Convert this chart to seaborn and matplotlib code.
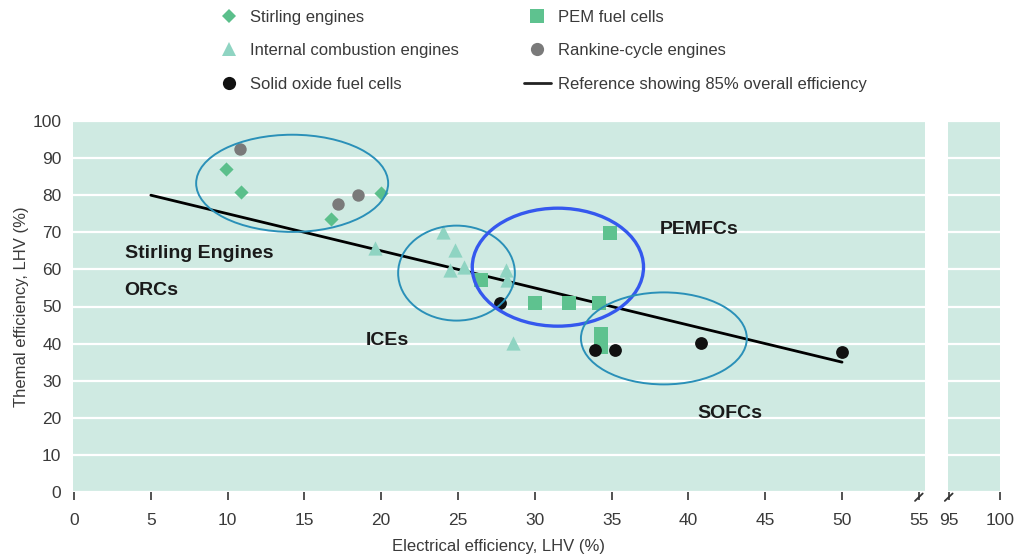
import matplotlib
matplotlib.use('Agg')
import matplotlib.pyplot as plt
import matplotlib.transforms as mtrans
import seaborn as sns
import pandas as pd
from matplotlib.patches import Ellipse
from matplotlib.lines import Line2D

# ---------------- data ----------------
stirling_x = [9.9, 10.9, 16.7, 20.0]
stirling_y = [87.0, 80.8, 73.5, 80.6]

rankine_x = [10.8, 17.2, 18.5]
rankine_y = [92.4, 77.5, 80.0]

ice_x = [19.6, 24.0, 24.8, 24.5, 25.4, 28.1, 28.2, 28.6]
ice_y = [65.7, 70.0, 65.2, 59.8, 60.6, 59.8, 57.2, 40.2]

pem_x = [34.9, 26.5, 30.0, 32.2, 34.2, 34.3, 34.3]
pem_y = [69.7, 57.1, 50.9, 50.9, 50.9, 42.6, 39.1]

sofc_x = [27.7, 33.9, 35.2, 40.8, 50.0]
sofc_y = [50.9, 38.3, 38.3, 40.2, 37.8]

ref_x = [5, 50]
ref_y = [80, 35]   # 85% overall efficiency

series_names = ["Stirling engines", "Internal combustion engines", "Solid oxide fuel cells",
                "PEM fuel cells", "Rankine-cycle engines"]
ref_name = "Reference showing 85% overall efficiency"

# cluster annotations: label, centre x, centre y, width, height
clusters = ["Stirling/ORC", "ICE", "PEMFC", "SOFC"]
cluster_cx = [14.2, 24.9, 31.5, 38.4]
cluster_cy = [83.2, 59.0, 60.6, 41.4]
cluster_w = [12.5, 7.6, 11.15, 10.8]
cluster_h = [26.2, 25.6, 31.8, 24.8]

labels_text = ["Stirling Engines", "ORCs", "ICEs", "PEMFCs", "SOFCs"]
labels_x = [3.3, 3.3, 19.0, 38.1, 40.6]
labels_y = [64.4, 54.4, 40.9, 70.8, 21.2]

main_ticks = list(range(0, 56, 5))
right_ticks = [95, 100]
y_ticks = list(range(0, 101, 10))

# ---------------- style ----------------
sns.set_theme(style='white')
plt.rcParams['font.family'] = ['Liberation Sans Narrow', 'Liberation Sans', 'DejaVu Sans']

bg = '#cfeae2'
col_stirling = '#5bbf8b'
col_ice = '#8fd4c2'
col_sofc = '#111111'
col_pem = '#5ec28f'
col_rankine = '#7a7a7a'
txt_col = '#3a3a3a'

fig = plt.figure(figsize=(10.18, 5.58), dpi=100)
L, R, B, T = 72.5 / 1018, 925 / 1018, 1 - 492 / 558, 1 - 121 / 558
ax = fig.add_axes([L, B, R - L, T - B])
ax2 = fig.add_axes([948 / 1018, B, 52 / 1018, T - B])

for a in (ax, ax2):
    a.set_facecolor(bg)
    a.set_ylim(0, 100)
    a.set_yticks(y_ticks)
    a.grid(False)
    a.grid(axis='y', color='white', lw=1.6)
    a.set_axisbelow(True)
    for s in a.spines.values():
        s.set_visible(False)
    a.tick_params(axis='x', length=6, width=1.3, color='#444444', direction='out',
                  pad=9, labelsize=12.5, labelcolor=txt_col, bottom=True)
    a.tick_params(axis='y', length=0, pad=8, labelsize=12.5, labelcolor=txt_col)

ax.set_xlim(-0.1, 55.4)
ax.set_xticks(main_ticks)
ax2.set_xlim(94.93, 100)
ax2.set_xticks(right_ticks)
ax2.set_yticklabels([])

# ---------------- marks ----------------
groups = [
    (stirling_x, stirling_y, series_names[0], 'D', col_stirling, 52),
    (rankine_x, rankine_y, series_names[4], 'o', col_rankine, 80),
    (ice_x, ice_y, series_names[1], '^', col_ice, 105),
    (pem_x, pem_y, series_names[3], 's', col_pem, 110),
    (sofc_x, sofc_y, series_names[2], 'o', col_sofc, 85),
]
for gx, gy, name, mk, col, size in groups:
    d = pd.DataFrame({'x': gx, 'y': gy})
    sns.scatterplot(data=d, x='x', y='y', marker=mk, color=col, s=size,
                    linewidth=0, ax=ax, zorder=3, legend=False)

sns.lineplot(x=ref_x, y=ref_y, color='black', lw=2.0, ax=ax, zorder=2.5)

for i, c in enumerate(clusters):
    if c == "PEMFC":
        ec, lw = '#3558ee', 2.4
    else:
        ec, lw = '#2a90b8', 1.4
    ax.add_patch(Ellipse((cluster_cx[i], cluster_cy[i]), cluster_w[i], cluster_h[i],
                         fill=False, edgecolor=ec, lw=lw, zorder=4))

for t, x, y in zip(labels_text, labels_x, labels_y):
    ax.text(x, y, t, fontsize=14, fontweight='bold', color='#1a1a1a',
            family=['Liberation Sans', 'DejaVu Sans'], ha='left', va='center', zorder=5)

ax.set_xlabel('')
ax.set_ylabel('')
ax2.set_xlabel('')
ax2.set_ylabel('')

# axis break marks
for a, bx in ((ax, 55), (ax2, 95)):
    tr = mtrans.blended_transform_factory(a.transData, a.transAxes)
    dx = 0.25 if a is ax else 0.38
    a.plot([bx - dx, bx + dx], [-0.024, -0.004], color='#333333', lw=1.3,
           transform=tr, clip_on=False)

fig.text((L + R) / 2 + 0.0, 1 - 546 / 558, 'Electrical efficiency, LHV (%)', ha='center',
         va='center', fontsize=12, color=txt_col)
fig.text(22 / 1018, (B + T) / 2, 'Themal efficiency, LHV (%)', ha='center', va='center',
         rotation=90, fontsize=12, color=txt_col)

# ---------------- legend ----------------
handles = [
    Line2D([], [], ls='', marker='D', color=col_stirling, markersize=7.5, mew=0),
    Line2D([], [], ls='', marker='^', color=col_ice, markersize=10.5, mew=0),
    Line2D([], [], ls='', marker='o', color=col_sofc, markersize=9.5, mew=0),
    Line2D([], [], ls='', marker='s', color=col_pem, markersize=10.5, mew=0),
    Line2D([], [], ls='', marker='o', color=col_rankine, markersize=9.5, mew=0),
    Line2D([], [], color='#222222', lw=2.0),
]
leg_labels = [series_names[0], series_names[1], series_names[2],
              series_names[3], series_names[4], ref_name]
fig.legend(handles, leg_labels, ncol=2, loc='upper left',
           bbox_to_anchor=(216 / 1018, 1 - 10 / 558), frameon=False,
           fontsize=12, labelcolor=txt_col, handlelength=1.6, handletextpad=0.45,
           labelspacing=1.1, columnspacing=3.9, borderpad=0, borderaxespad=0)

fig.savefig('out.png', dpi=100)
